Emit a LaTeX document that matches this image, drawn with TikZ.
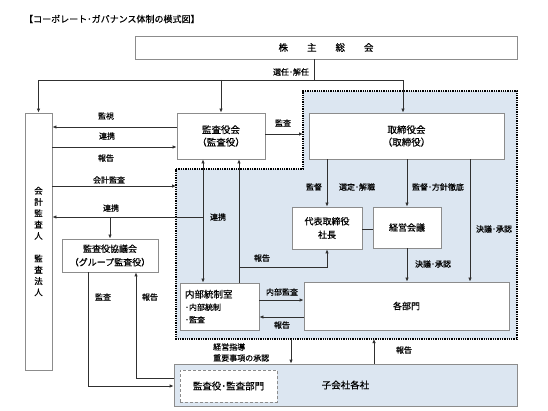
\documentclass[tikz,border=0pt]{standalone}
\usepackage{fontspec}
\setmainfont{Noto Sans CJK JP}[FakeBold=0.35]
\usetikzlibrary{arrows.meta}
\definecolor{regionblue}{HTML}{DCE6F1}
\definecolor{boxgray}{HTML}{8C8C8C}
\definecolor{linec}{HTML}{303030}
\begin{document}
\begin{tikzpicture}[x=1pt,y=-1pt,
  box/.style={draw=boxgray, fill=white, line width=0.8pt, inner sep=0pt, align=center,
              font=\fontsize{9.5}{12.5}\selectfont},
  lbl/.style={font=\fontsize{8}{11}\selectfont, inner sep=0pt},
  conn/.style={draw=linec, line width=0.8pt},
  arr/.style={conn, -{Latex[length=4pt,width=3.5pt]}},
  darr/.style={conn, {Latex[length=4pt,width=3.5pt]}-{Latex[length=4pt,width=3.5pt]}}]
\useasboundingbox (0,0) rectangle (548,411);

% shaded dotted region
\coordinate (rA) at (176,169);
\coordinate (rB) at (303,169);
\coordinate (rC) at (303,91);
\coordinate (rD) at (517,91);
\coordinate (rE) at (517,339);
\coordinate (rF) at (176,339);
\fill[regionblue] (rA) -- (rB) -- (rC) -- (rD) -- (rE) -- (rF) -- cycle;
\draw[densely dotted, line width=1.3pt] (rA) -- (rB) -- (rC) -- (rD) -- (rE) -- (rF) -- cycle;

% title
\node[anchor=west, inner sep=0pt, font=\fontsize{9}{10}\selectfont] (title) at (24,19)
  {【コーポレート･ガバナンス体制の模式図】};

% boxes
\node[box, minimum width=382pt, minimum height=23pt] (kabu) at (326,47.5)
  {株\hspace{19pt}主\hspace{19pt}総\hspace{19pt}会};
\node[box, minimum width=88pt, minimum height=46pt] (kansa) at (221,136)
  {監査役会\\（監査役）};
\node[box, minimum width=195pt, minimum height=46pt] (tori) at (406.5,136)
  {取締役会\\（取締役）};
\node[box, minimum width=27pt, minimum height=257pt, font=\fontsize{8.5}{11.3}\selectfont] (kaikei) at (38.5,241.5)
  {会\\計\\監\\査\\人\\[11.3pt]監\\査\\法\\人};
\node[box, minimum width=96pt, minimum height=33pt, font=\fontsize{9}{13.5}\selectfont] (kyogi) at (110,255.5)
  {監査役協議会\\（グループ監査役）};
\node[box, minimum width=70pt, minimum height=42pt, font=\fontsize{9}{13.5}\selectfont] (daihyo) at (327,228)
  {代表取締役\\社長};
\node[box, minimum width=68pt, minimum height=41pt, font=\fontsize{9}{12}\selectfont] (keiei) at (407,227.5)
  {経営会議};
\node[box, minimum width=205pt, minimum height=48pt, font=\fontsize{9}{12}\selectfont] (kakubu) at (406.5,306)
  {各部門};
\node[box, minimum height=47pt, text width=69pt, inner xsep=5pt, align=left] (naibu) at (219.5,306.5)
  {{\fontsize{9.5}{12}\selectfont 内部統制室}\\{\fontsize{8}{12}\selectfont ･内部統制}\\{\fontsize{8}{12}\selectfont ･監査}};
\node[box, fill=regionblue, minimum width=343pt, minimum height=42pt, font=\fontsize{9.5}{12}\selectfont] (kogaisha) at (345.5,385)
  {子会社各社};
\node[box, draw=boxgray, densely dashed, line width=0.5pt, minimum width=97pt, minimum height=32pt,
      font=\fontsize{9.5}{12}\selectfont] (kansabumon) at (228.5,386)
  {監査役･監査部門};

% helper coordinates
\coordinate (bus) at (314,80);
\coordinate (x403) at (403,0);
\coordinate (y127) at (0,127);
\coordinate (y147) at (0,147);
\coordinate (y134) at (0,134);
\coordinate (rL186) at (176,186);
\coordinate (rT134) at (303,134);
\coordinate (x203) at (203,0);
\coordinate (x239) at (239,0);
\coordinate (j217) at (203,217);
\coordinate (b217) at (110,217);
\coordinate (j267) at (239,267);
\coordinate (x88) at (88,0);
\coordinate (c386) at (88,386);
\coordinate (x136) at (136,0);
\coordinate (c378) at (136,378);
\coordinate (x327) at (327,0);
\coordinate (x407) at (407,0);
\coordinate (x470) at (470,0);
\coordinate (y229) at (0,229);
\coordinate (y300) at (0,300);
\coordinate (y317) at (0,317);
\coordinate (rB291) at (291,339);
\coordinate (rB374) at (374,339);

% connectors
\draw[conn] (kabu.south -| bus) -- (bus);
\draw[arr] (bus) -| (kaikei.north);
\draw[arr] (kansa.north |- bus) -- (kansa.north);
\draw[arr] (bus) -| (x403 |- tori.north);

\draw[arr] (kansa.west |- y127) -- (kaikei.east |- y127);
\draw[arr] (kaikei.east |- y147) -- (kansa.west |- y147);
\draw[arr] (kaikei.east |- rL186) -- (rL186);
\draw[arr] (kansa.east |- y134) -- (rT134);

\draw[darr] (x203 |- kansa.south) -- (x203 |- naibu.north);
\draw[arr] (j217) -- (kaikei.east |- j217);
\draw[arr] (b217) -- (kyogi.north -| b217);
\draw[arr] (x239 |- naibu.north) -- (x239 |- kansa.south);
\draw[arr] (j267) -| (daihyo.south);

\draw[arr] (x88 |- kyogi.south) -- (c386) -- (kogaisha.west |- c386);
\draw[arr] (kogaisha.west |- c378) -- (c378) -- (x136 |- kyogi.south);

\draw[arr] (x327 |- tori.south) -- (daihyo.north);
\draw[arr] (x407 |- tori.south) -- (keiei.north);
\draw[arr] (x470 |- tori.south) -- (x470 |- kakubu.north);
\draw[arr] (keiei.south) -- (x407 |- kakubu.north);
\draw[conn] (daihyo.east |- y229) -- (keiei.west |- y229);

\draw[arr] (naibu.east |- y300) -- (kakubu.west |- y300);
\draw[arr] (kakubu.west |- y317) -- (naibu.east |- y317);

\draw[arr] (rB291) -- (kogaisha.north -| rB291);
\draw[arr] (kogaisha.north -| rB374) -- (rB374);

% labels
\node[lbl] (l1) at (291,72) {選任･解任};
\node[lbl] (l2) at (106,116) {監視};
\node[lbl] (l3) at (107,136) {連携};
\node[lbl] (l4) at (106,158) {報告};
\node[lbl] (l5) at (109,180) {会計監査};
\node[lbl] (l6) at (111,208) {連携};
\node[lbl] (l7) at (218,217) {連携};
\node[lbl] (l8) at (262,258) {報告};
\node[lbl] (l9) at (283,123) {監査};
\node[lbl] (l10) at (314,187) {監督};
\node[lbl] (l11) at (357,187) {選定･解職};
\node[lbl] (l12) at (438,187) {監督･方針徹底};
\node[lbl] (l13) at (494,229) {決議･承認};
\node[lbl] (l14) at (433,264) {決議･承認};
\node[lbl] (l15) at (282,292) {内部監査};
\node[lbl] (l16) at (282,325) {報告};
\node[lbl] (l17) at (103,297) {監査};
\node[lbl] (l18) at (150,297) {報告};
\node[lbl, anchor=west, align=left] (l19) at (213,352.5) {経営指導\\重要事項の承認};
\node[lbl] (l20) at (404,350) {報告};
\end{tikzpicture}
\end{document}
